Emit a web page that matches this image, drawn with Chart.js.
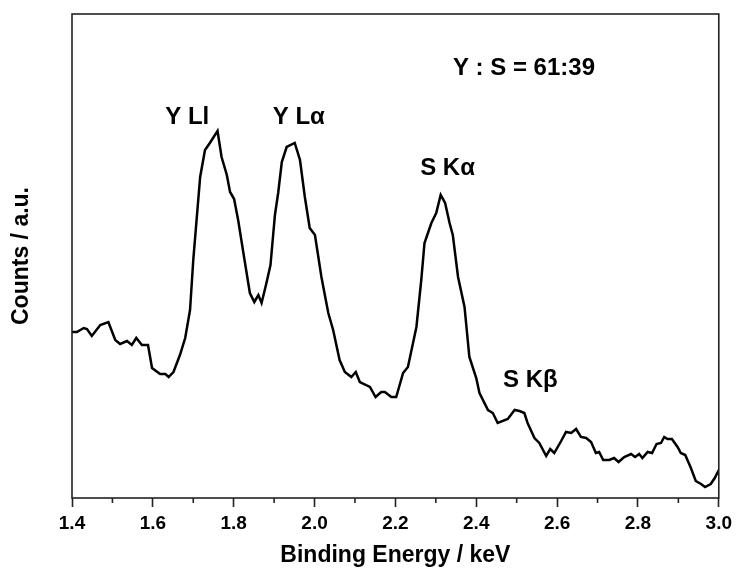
<!DOCTYPE html>
<html>
<head>
<meta charset="utf-8">
<script src="https://cdn.jsdelivr.net/npm/chart.js@4"></script>
<style>
  html, body { margin: 0; padding: 0; background: #fff; }
  #wrap { width: 737px; height: 569px; }
</style>
</head>
<body>
<div id="wrap"><canvas id="edsChart" width="737" height="569"></canvas></div>
<script>
// EDS spectrum (energy in keV, counts in a.u.)
const energy = [
  1.400, 1.412, 1.429, 1.437, 1.449, 1.470, 1.490, 1.507, 1.519, 1.536,
  1.548, 1.559, 1.573, 1.588, 1.598, 1.618, 1.631, 1.639, 1.651, 1.667,
  1.680, 1.692, 1.700, 1.717, 1.729, 1.741, 1.760, 1.770, 1.783, 1.791,
  1.801, 1.811, 1.824, 1.840, 1.851, 1.861, 1.869, 1.881, 1.891, 1.902,
  1.910, 1.919, 1.931, 1.951, 1.964, 1.976, 1.988, 2.001, 2.017, 2.034,
  2.046, 2.062, 2.075, 2.091, 2.102, 2.112, 2.137, 2.151, 2.165, 2.174,
  2.190, 2.202, 2.219, 2.231, 2.252, 2.264, 2.272, 2.289, 2.301, 2.312,
  2.323, 2.334, 2.342, 2.355, 2.371, 2.383, 2.400, 2.408, 2.429, 2.441,
  2.453, 2.478, 2.495, 2.507, 2.519, 2.527, 2.544, 2.556, 2.573, 2.583,
  2.593, 2.610, 2.622, 2.635, 2.647, 2.659, 2.672, 2.684, 2.696, 2.704,
  2.714, 2.729, 2.741, 2.752, 2.766, 2.783, 2.793, 2.803, 2.811, 2.824,
  2.835, 2.846, 2.857, 2.865, 2.873, 2.884, 2.898, 2.906, 2.917, 2.931,
  2.943, 2.956, 2.966, 2.980, 2.990, 3.000
];
const counts = [
  166, 166, 170, 169, 162, 173, 176, 158, 154, 157,
  153, 160, 153, 153, 130, 124, 124, 121, 126, 143,
  160, 188, 238, 321, 348, 355, 367, 341, 323, 306,
  299, 278, 245, 205, 196, 203, 195, 215, 233, 283,
  305, 336, 351, 355, 338, 301, 270, 263, 221, 185,
  168, 138, 126, 121, 126, 116, 111, 101, 106, 106,
  101, 101, 125, 131, 171, 218, 255, 275, 285, 303,
  295, 275, 263, 221, 191, 141, 120, 105, 88, 85,
  75, 79, 88, 87, 85, 75, 60, 55, 42, 49,
  45, 57, 66, 65, 69, 61, 60, 56, 45, 46,
  38, 38, 40, 36, 41, 44, 41, 44, 40, 46,
  45, 54, 55, 61, 59, 59, 51, 45, 43, 30,
  17, 14, 11, 14, 20, 28
];

// peak labels and where they sit (data coordinates)
const peakLabels = ['Y Ll', 'Y L\u03b1', 'S K\u03b1', 'S K\u03b2', 'Y : S = 61:39'];
const labelEnergy = [1.685, 1.961, 2.329, 2.534, 2.518];
const labelCounts = [381, 381, 330, 118, 430];

const minorTicks = [1.5, 1.7, 1.9, 2.1, 2.3, 2.5, 2.7, 2.9];

const points = energy.map((e, i) => ({ x: e, y: counts[i] }));

// frame, minor ticks and peak labels
const extras = {
  id: 'extras',
  afterDraw(chart) {
    const ctx = chart.ctx;
    const area = chart.chartArea;
    const xs = chart.scales.x;
    const ys = chart.scales.y;
    ctx.save();
    ctx.strokeStyle = '#222';
    ctx.lineWidth = 1.6;
    ctx.strokeRect(area.left, area.top, area.right - area.left, area.bottom - area.top);

    minorTicks.forEach(v => {
      const px = xs.getPixelForValue(v);
      ctx.beginPath();
      ctx.moveTo(px, area.bottom);
      ctx.lineTo(px, area.bottom + 5);
      ctx.stroke();
    });

    ctx.fillStyle = '#000';
    ctx.font = 'bold 24px "Liberation Sans", Arial, sans-serif';
    ctx.textAlign = 'center';
    ctx.textBaseline = 'middle';
    peakLabels.forEach((t, i) => {
      ctx.fillText(t, xs.getPixelForValue(labelEnergy[i]), ys.getPixelForValue(labelCounts[i]));
    });
    ctx.restore();
  }
};

const ctx = document.getElementById('edsChart').getContext('2d');
new Chart(ctx, {
  type: 'line',
  data: {
    datasets: [{
      data: points,
      borderColor: '#000',
      borderWidth: 2.5,
      pointRadius: 0,
      tension: 0,
      fill: false
    }]
  },
  options: {
    responsive: false,
    animation: false,
    layout: { padding: { top: 14, right: 16, left: 0, bottom: 0 } },
    plugins: { legend: { display: false }, tooltip: { enabled: false } },
    scales: {
      x: {
        type: 'linear',
        min: 1.4,
        max: 3.0,
        afterFit: scale => { scale.height = 71; },
        ticks: {
          stepSize: 0.2,
          color: '#000',
          padding: 5,
          maxRotation: 0,
          font: { family: '"Liberation Sans", Arial, sans-serif', size: 19, weight: 'bold' },
          callback: v => Number(v).toFixed(1)
        },
        grid: { display: true, drawOnChartArea: false, tickLength: 9, tickWidth: 1.6, tickColor: '#222' },
        border: { display: false },
        title: {
          display: true,
          text: 'Binding Energy / keV',
          color: '#000',
          padding: { top: 0, bottom: 0 },
          font: { family: '"Liberation Sans", Arial, sans-serif', size: 23, weight: 'bold' }
        }
      },
      y: {
        min: 0,
        max: 484,
        afterFit: scale => { scale.width = 72; },
        ticks: { display: false },
        grid: { display: false },
        border: { display: false },
        title: {
          display: true,
          text: 'Counts / a.u.',
          color: '#000',
          padding: { top: 8, bottom: 0 },
          font: { family: '"Liberation Sans", Arial, sans-serif', size: 23, weight: 'bold' }
        }
      }
    }
  },
  plugins: [extras]
});
</script>
</body>
</html>
